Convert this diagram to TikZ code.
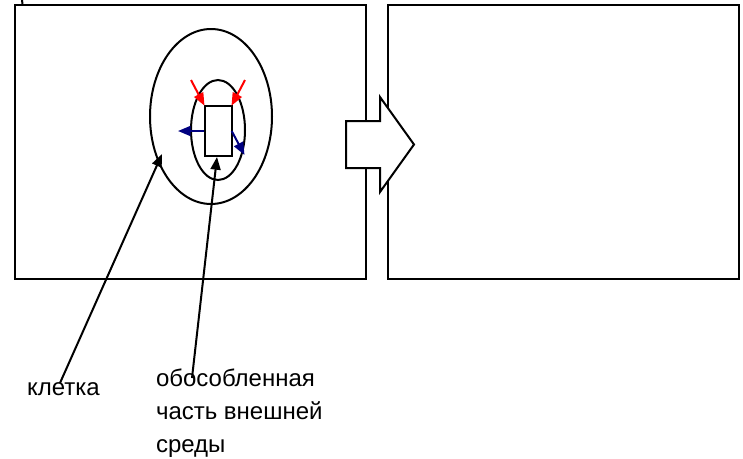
\documentclass[tikz,border=0pt]{standalone}
\usepackage{fontspec}
\setmainfont{Liberation Sans}
\usetikzlibrary{shapes.geometric,arrows.meta}
\definecolor{navyarrow}{RGB}{0,0,128}
\tikzset{
  line/.style={draw=black,line width=1.5pt},
  panel/.style={line,rectangle,inner sep=0pt,outer sep=0pt},
  oval/.style={line,ellipse,inner sep=0pt,outer sep=0pt},
  pointer/.style={line,-{Triangle[length=9.5pt,width=7.5pt]}},
  label/.style={font=\fontsize{18}{24.75}\selectfont,align=left,anchor=north west,inner sep=0pt,outer sep=0pt,text=black},
  redarrow/.style={draw=red,line width=1.5pt,-{Triangle[length=9.5pt,width=7.5pt]}},
  bluearrow/.style={draw=navyarrow,line width=1.5pt,-{Triangle[length=9.5pt,width=7.5pt]}},
}
\begin{document}
\begin{tikzpicture}[x=0.75pt,y=-0.75pt]
\useasboundingbox (0,0) rectangle (743,458);
% panels
\coordinate (tickA) at (22,0);
\coordinate (tickB) at (22.5,4);
\draw[line] (tickA) -- (tickB);
\node[panel,minimum width=263.25pt,minimum height=205.5pt] (left) at (190.5,142) {};
\node[panel,minimum width=263.25pt,minimum height=205.5pt] (right) at (563.5,142) {};
% big arrow
\draw[line,fill=white,line join=miter]
  (346,121) coordinate (a1) -- (380,121) -- (380,97) -- (414,144.5) -- (380,192) -- (380,168) -- (346,168) -- cycle;
% cell
\node[oval,minimum width=91.5pt,minimum height=131.25pt] (cell) at (211,116.5) {};
\node[oval,minimum width=40.5pt,minimum height=75pt] (inner) at (218,130) {};
\node[panel,minimum width=20.25pt,minimum height=37.5pt] (core) at (218,130.7) {};
% small arrows
\coordinate (r1) at (191,80);
\coordinate (r2) at (245,80);
\coordinate (b1) at (178,131);
\coordinate (b2) at (244.5,155);
\coordinate (b1s) at (204.3,131);
\coordinate (b2s) at (231.7,131);
\draw[redarrow] (r1) -- (core.north west);
\draw[redarrow] (r2) -- (core.north east);
\draw[bluearrow] (b1s) -- (b1);
\draw[bluearrow] (b2s) -- (b2);
% labels
\node[label] (lab1) at (27,382.5) {клетка};
\node[label] (lab2) at (156,369) {обособленная\\часть внешней\\среды};
% pointers
\coordinate (p1s) at (60,383);
\coordinate (p1e) at (162,154);
\coordinate (p2s) at (192,378);
\coordinate (p2e) at (217,157);
\draw[pointer] (p1s) -- (p1e);
\draw[pointer] (p2s) -- (p2e);
\end{tikzpicture}
\end{document}
